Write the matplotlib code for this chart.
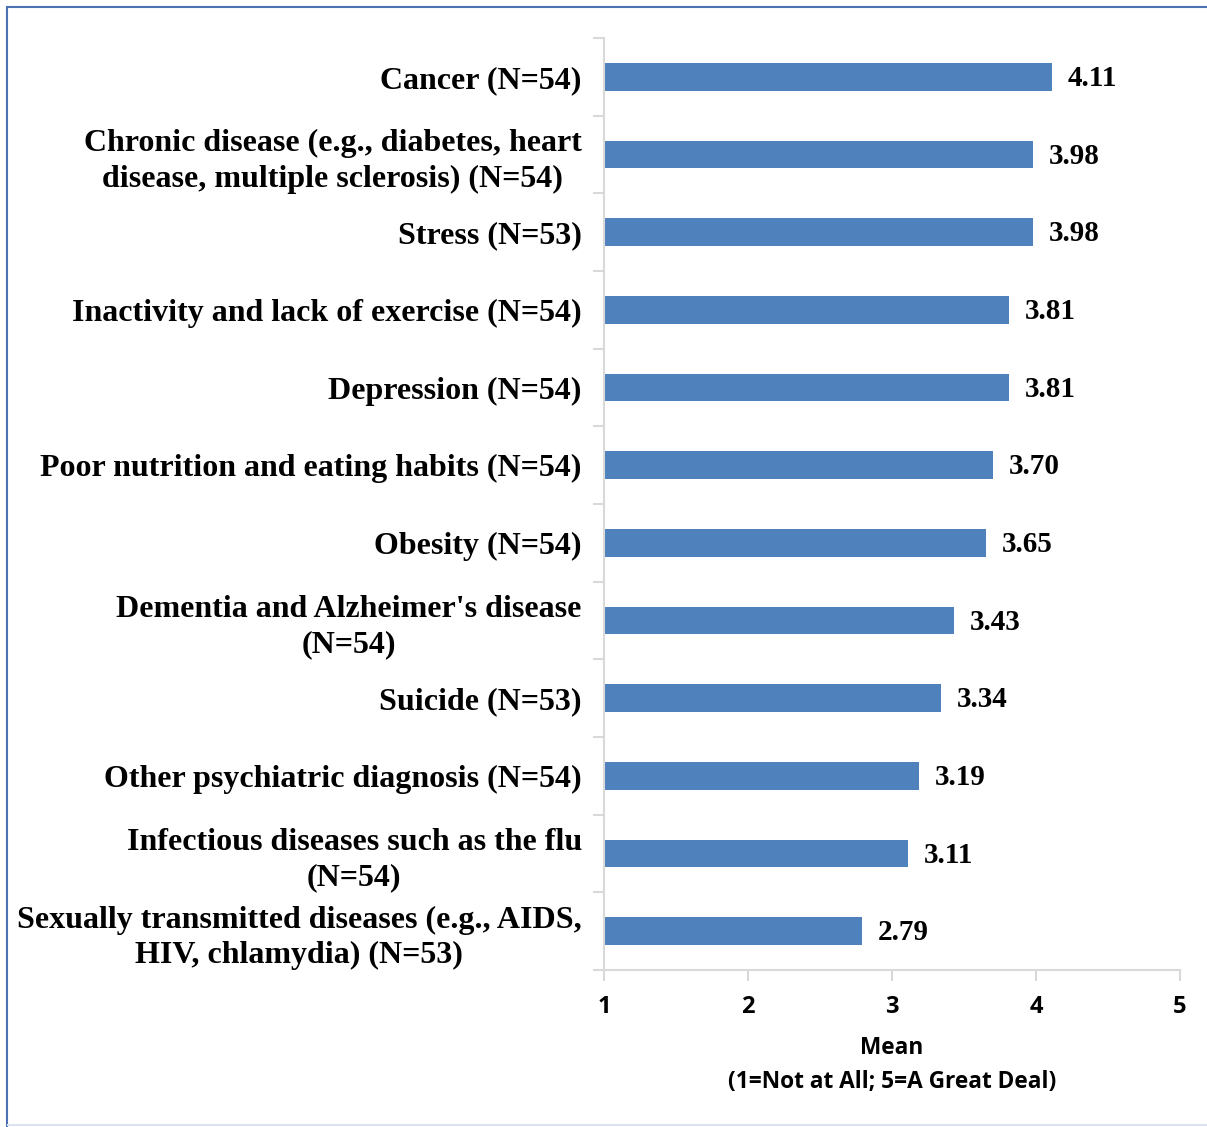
import matplotlib
matplotlib.use('Agg')
import matplotlib.pyplot as plt
from matplotlib.patches import Rectangle
from matplotlib.lines import Line2D

# данные
categories = [
    'Cancer (N=54)',
    'Chronic disease (e.g., diabetes, heart\ndisease, multiple sclerosis) (N=54)',
    'Stress (N=53)',
    'Inactivity and lack of exercise (N=54)',
    'Depression (N=54)',
    'Poor nutrition and eating habits (N=54)',
    'Obesity (N=54)',
    "Dementia and Alzheimer's disease\n(N=54)",
    'Suicide (N=53)',
    'Other psychiatric diagnosis (N=54)',
    'Infectious diseases such as the flu\n(N=54)',
    'Sexually transmitted diseases (e.g., AIDS,\nHIV, chlamydia) (N=53)',
]
means = [4.11, 3.98, 3.98, 3.81, 3.81, 3.70, 3.65, 3.43, 3.34, 3.19, 3.11, 2.79]
x_ticks = [1, 2, 3, 4, 5]

bar_color = '#4F81BD'
grid_color = '#D9D9D9'

fig = plt.figure(figsize=(12.07, 11.27), dpi=100)
ax = fig.add_axes([604 / 1207, 1 - 970 / 1127, 576 / 1207, 932 / 1127])

n = len(categories)
ypos = list(range(n))
ax.barh(ypos, [m - 1 for m in means], left=1, height=0.36, color=bar_color)

for y, m in zip(ypos, means):
    ax.text(m + 0.11, y + 0.02, f'{m:.2f}', va='center', ha='left',
            fontsize=21, fontweight='bold', family='Liberation Serif')

ax.set_xlim(1, 5)
ax.set_ylim(n - 0.5, -0.5)
ax.set_xticks(x_ticks)
ax.set_xticklabels([str(t) for t in x_ticks], fontsize=17, fontweight='bold',
                   family='Open Sans')

ax.set_yticks(ypos)
ax.set_yticklabels(categories, fontsize=23, fontweight='bold', family='Liberation Serif',
                   linespacing=1.3)
ax.tick_params(axis='y', length=0, pad=16)
for lbl in ax.get_yticklabels():
    lbl.set_ha('right')
    lbl.set_multialignment('center')

# минорные деления между категориями
ax.set_yticks([i - 0.5 for i in range(n + 1)], minor=True)
ax.tick_params(axis='y', which='minor', length=8, color=grid_color, width=1.5)
ax.tick_params(axis='x', length=8, color=grid_color, width=1.5, pad=10)

for side in ['top', 'right']:
    ax.spines[side].set_visible(False)
for side in ['left', 'bottom']:
    ax.spines[side].set_color(grid_color)
    ax.spines[side].set_linewidth(1.5)

ax.set_xlabel('Mean\n(1=Not at All; 5=A Great Deal)', fontsize=16.3, fontweight='bold',
              family='Open Sans', labelpad=12, linespacing=1.55)

# рамка
fig.patches.append(Rectangle((7 / 1207, -0.01), 1.2, 1 - 7 / 1127 + 0.01,
                             transform=fig.transFigure,
                             fill=False, edgecolor='#4A72B0', linewidth=1.5))
fig.lines.append(Line2D([8 / 1207, 1], [2 / 1127, 2 / 1127], transform=fig.transFigure,
                        color='#DCE3F0', linewidth=1.5))

fig.savefig('out.png', dpi=100)
